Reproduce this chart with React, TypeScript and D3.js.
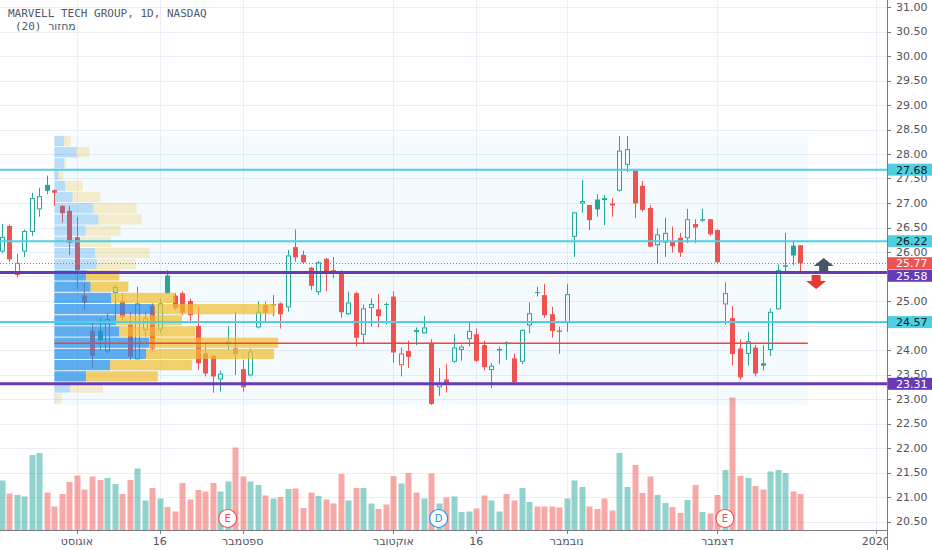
import * as d3 from 'd3'

// daily bars, index 0 = first visible session
const opens = [
  26.01, 26.53, 25.53, 26.01, 26.41, 26.87, 27.37, 27.26, 26.94, 26.84,
  26.30, 25.11, 24.39, 24.39, 23.97, 25.16, 25.00, 24.52, 23.81, 24.41,
  24.90, 24.41, 25.52, 25.11, 25.16, 25.00, 24.49, 23.93, 23.88, 23.40,
  24.14, 24.03, 23.61, 23.48, 24.46, 24.92, 24.93, 24.95, 24.87, 26.10,
  25.94, 25.68, 25.18, 25.86, 25.63, 25.56, 24.73, 25.16, 24.31, 24.86,
  24.83, 24.94, 25.09, 23.69, 23.98, 24.41, 24.34, 24.15, 23.24, 23.40,
  23.76, 24.00, 24.22, 24.32, 24.10, 23.59, 24.00, 24.15, 23.83, 23.76,
  24.50, 25.18, 25.12, 24.73, 24.40, 24.56, 26.31, 26.99, 26.96, 27.07,
  27.10, 26.99, 27.25, 27.78, 27.66, 27.35, 26.90, 26.14, 26.19, 26.22,
  26.29, 26.28, 26.57, 26.65, 26.67, 26.45, 24.93, 24.65, 24.03, 23.92,
  24.05, 23.73, 24.00, 24.83, 25.71, 26.13, 26.14,
]
const highs = [
  26.57, 26.56, 25.96, 26.46, 27.21, 27.31, 27.56, 27.28, 26.96, 26.94,
  26.71, 25.37, 24.56, 24.66, 24.75, 25.33, 25.16, 24.78, 25.29, 24.78,
  24.95, 25.05, 25.63, 25.16, 25.20, 25.05, 24.88, 24.14, 23.90, 23.58,
  24.48, 24.78, 23.80, 24.03, 24.99, 24.99, 25.12, 24.97, 26.04, 26.46,
  26.03, 25.70, 25.82, 25.88, 25.90, 25.63, 25.19, 25.19, 24.93, 25.05,
  25.14, 24.97, 25.20, 24.05, 24.19, 24.46, 24.69, 24.22, 23.63, 23.71,
  24.32, 24.10, 24.56, 24.44, 24.19, 23.73, 24.07, 24.18, 23.93, 24.42,
  24.97, 25.29, 25.35, 24.88, 24.48, 25.35, 26.82, 27.47, 26.96, 27.18,
  27.16, 27.10, 28.37, 28.37, 27.66, 27.45, 26.96, 26.48, 26.70, 26.52,
  26.39, 26.88, 26.67, 26.88, 26.67, 26.46, 25.38, 24.90, 24.22, 24.37,
  24.10, 24.10, 24.85, 25.75, 26.39, 26.24, 26.14,
]
const lows = [
  25.97, 25.80, 25.48, 25.90, 26.33, 26.72, 27.18, 26.94, 26.60, 25.94,
  25.24, 24.82, 23.63, 24.00, 23.92, 24.62, 24.58, 23.80, 23.80, 24.27,
  23.97, 24.35, 25.14, 24.82, 24.71, 24.54, 23.59, 23.46, 23.13, 23.15,
  24.00, 23.49, 23.15, 23.46, 24.44, 24.58, 24.69, 24.44, 24.78, 25.80,
  25.77, 25.22, 25.12, 25.20, 25.46, 24.66, 24.71, 24.07, 24.12, 24.48,
  24.46, 24.52, 23.74, 23.46, 23.63, 24.10, 24.33, 22.88, 23.06, 23.13,
  23.74, 23.78, 24.07, 23.76, 23.58, 23.22, 23.71, 23.80, 23.33, 23.71,
  24.34, 25.09, 24.66, 24.25, 23.92, 24.37, 25.90, 26.80, 26.45, 26.72,
  26.55, 26.72, 27.23, 27.63, 26.69, 26.82, 26.10, 25.76, 25.90, 25.99,
  25.90, 26.18, 26.18, 26.61, 26.33, 25.77, 24.52, 23.69, 23.39, 23.69,
  23.46, 23.58, 23.88, 24.82, 25.60, 25.73, 25.60,
]
const closes = [
  26.31, 25.85, 25.78, 26.43, 27.10, 27.14, 27.25, 27.21, 26.79, 26.19,
  25.63, 24.97, 23.88, 24.20, 24.63, 25.29, 24.67, 23.86, 24.95, 24.65,
  24.03, 24.95, 25.16, 24.85, 24.76, 24.71, 23.73, 23.52, 23.46, 23.52,
  24.17, 23.92, 23.24, 23.97, 24.78, 24.76, 24.94, 24.73, 25.93, 25.89,
  25.79, 25.31, 25.79, 25.60, 25.58, 24.77, 24.97, 24.25, 24.85, 24.94,
  24.69, 24.92, 23.95, 23.93, 23.86, 24.37, 24.46, 22.90, 23.32, 23.31,
  24.05, 24.07, 24.39, 23.78, 23.65, 23.68, 24.02, 24.12, 23.34, 24.41,
  24.75, 25.16, 24.71, 24.39, 24.37, 25.14, 26.81, 27.04, 26.65, 26.87,
  27.06, 26.95, 28.07, 28.10, 26.99, 26.86, 26.11, 26.36, 26.39, 26.12,
  25.99, 26.67, 26.50, 26.67, 26.36, 25.79, 25.16, 23.92, 23.44, 24.18,
  23.52, 23.68, 24.78, 25.63, 25.73, 25.93, 25.77,
]
// millions of shares
const volumes = [
  9.9, 7.3, 7.0, 6.7, 15.0, 15.4, 7.5, 4.7, 7.2, 9.6,
  10.9, 8.1, 10.7, 10.0, 10.4, 9.2, 7.2, 10.0, 12.3, 5.9,
  8.4, 6.3, 4.6, 3.7, 9.4, 6.1, 8.0, 7.7, 9.4, 7.7,
  9.7, 16.5, 10.7, 9.7, 9.0, 6.9, 6.3, 6.6, 8.2, 8.3,
  4.4, 7.5, 6.8, 6.1, 5.3, 11.2, 5.9, 8.4, 8.4, 5.3,
  4.2, 5.1, 10.8, 9.3, 11.4, 7.5, 6.3, 11.3, 5.3, 6.5,
  6.7, 3.6, 3.7, 4.3, 6.9, 5.9, 3.7, 7.2, 5.9, 8.4,
  5.6, 4.7, 4.7, 4.7, 4.5, 6.3, 9.9, 8.6, 4.7, 4.2,
  6.3, 3.9, 15.4, 8.6, 13.0, 7.4, 10.7, 7.0, 5.4, 4.6,
  3.4, 6.0, 9.0, 3.6, 3.3, 7.0, 12.0, 26.5, 10.8, 10.4,
  8.8, 8.1, 11.7, 12.0, 11.4, 7.7, 7.2,
]

const timeTicks = [10, 21, 32, 52, 63, 75, 95, 116]
const timeLabels = ['אוגוסט', '16', 'ספטמבר', 'אוקטובר', '16', 'נובמבר', 'דצמבר', '2020']
const priceTicks = d3.range(20.5, 31.001, 0.5)

// fixed range volume profile, rows listed from the top price down
const profileHigh = 28.37
const profileLow = 22.88
const profileFrom = 7
const profileTo = 107
const profileUp = [3.9, 8.9, 3.9, 1.6, 4.3, 7.3, 15.6, 17.6, 12.5, 9.9, 16.3, 16.9,
  12.7, 14.5, 22.7, 40.0, 24.7, 26.0, 37.9, 36.7, 22.3, 12.7, 6.3, 0.3]
const profileDown = [2.7, 5.1, 0.7, 2.0, 7.1, 11.2, 17.3, 17.3, 14.0, 12.7, 21.7, 15.7,
  13.3, 15.1, 25.6, 48.3, 26.3, 30.3, 51.6, 51.2, 32.7, 28.7, 13.1, 2.7]
const valueAreaRows = [12, 21]

const cyanLevels = [27.68, 26.22, 24.57]
const purpleLevels = [25.58, 23.31]
const lastPrice = closes[closes.length - 1]

const events = [
  { bar: 30, letter: 'E' },
  { bar: 58, letter: 'D' },
  { bar: 96, letter: 'E' },
]
const arrowMarks = [
  { bar: 109.1, price: 25.59, dir: 1 },
  { bar: 108.1, price: 25.53, dir: -1 },
]

const TEAL = '#26a69a'
const RED = '#ef5350'
const CYAN = '#4dd0e1'
const PURPLE = '#673ab7'
const TEXT = '#50535e'

const crisp = (v: number) => Math.round(v) + 0.5

export default function App() {
  const W = 932
  const H = 550
  const axisX = 887
  const paneBottom = 530

  const x = d3.scaleLinear().domain([0, 106]).range([1.6, 800.3])
  const y = d3.scaleLinear().domain([25, 31]).range([301, 7])
  const vy = d3.scaleLinear().domain([0, d3.max(volumes)!]).range([paneBottom, paneBottom - 132.5])

  const totals = profileUp.map((u, i) => u + profileDown[i])
  const px0 = x(profileFrom)
  const px1 = x(profileTo)
  const pw = d3.scaleLinear().domain([0, d3.max(totals)!]).range([0, 0.297 * (px1 - px0)])
  const rowStep = (y(profileLow) - y(profileHigh)) / profileUp.length
  const pocRow = d3.maxIndex(totals)
  const pocPrice = profileHigh - (pocRow + 0.5) * (profileHigh - profileLow) / profileUp.length

  // axis labels, pushed apart when they collide
  const labels = [
    ...cyanLevels.map(p => ({ p, bg: CYAN, fg: '#131722' })),
    { p: lastPrice, bg: RED, fg: '#ffffff' },
    ...purpleLevels.map(p => ({ p, bg: PURPLE, fg: '#ffffff' })),
  ].map(d => ({ ...d, cy: y(d.p) })).sort((a, b) => a.cy - b.cy)
  for (let i = 1; i < labels.length; i++) {
    const min = labels[i - 1].cy + 12.5
    if (labels[i].cy < min) labels[i].cy = min
  }
  // tick labels that sit fully under a coloured label are not drawn
  const shownTicks = priceTicks.filter(p => labels.every(l => Math.abs(l.cy - y(p)) > 7))

  return (
    <svg width={W} height={H} style={{ position: 'absolute', left: 0, top: 0, background: '#fff' }}
      fontFamily="'DejaVu Sans', sans-serif">
      <rect width={W} height={H} fill="#fff" />

      {/* grid */}
      {priceTicks.map(p => (
        <line key={'h' + p} x1={0} x2={axisX} y1={crisp(y(p))} y2={crisp(y(p))} stroke="#e9eff5" />
      ))}
      {timeTicks.map(i => (
        <line key={'v' + i} x1={crisp(x(i))} x2={crisp(x(i))} y1={0} y2={paneBottom} stroke="#e9eff5" />
      ))}

      {/* profile range background */}
      <rect x={px0} y={y(profileHigh)} width={px1 - px0} height={y(profileLow) - y(profileHigh)}
        fill="rgba(33,150,243,0.05)" />

      {/* volume */}
      {volumes.map((v, i) => (
        <rect key={'vol' + i} x={Math.round(x(i)) - 2.5} width={6} y={vy(v)} height={paneBottom - vy(v)}
          fill={closes[i] >= opens[i] ? 'rgba(38,166,154,0.5)' : 'rgba(239,83,80,0.5)'} />
      ))}

      {/* candles */}
      {closes.map((c, i) => {
        const o = opens[i]
        const prev = i ? closes[i - 1] : o
        const col = c >= prev ? TEAL : RED
        const hollow = c > o
        const cx = Math.round(x(i))
        const top = y(Math.max(o, c))
        const bot = Math.max(top + 1, y(Math.min(o, c)))
        const hy = y(highs[i])
        const ly = y(lows[i])
        if (hollow) {
          return (
            <g key={'c' + i} stroke={col}>
              <line x1={cx + 0.5} x2={cx + 0.5} y1={hy} y2={top} />
              <line x1={cx + 0.5} x2={cx + 0.5} y1={bot} y2={ly} />
              <rect x={cx - 1.5} y={top + 0.5} width={4} height={Math.max(0.5, bot - top - 1)} fill="none" />
            </g>
          )
        }
        return (
          <g key={'c' + i}>
            <line x1={cx + 0.5} x2={cx + 0.5} y1={hy} y2={ly} stroke={col} />
            <rect x={cx - 2} y={top} width={5} height={bot - top} fill={col} />
          </g>
        )
      })}

      {/* volume profile rows */}
      {profileUp.map((u, r) => {
        const inVA = r >= valueAreaRows[0] && r <= valueAreaRows[1]
        const ry = y(profileHigh) + r * rowStep
        const uw = pw(u)
        const dw = pw(profileDown[r])
        return (
          <g key={'p' + r}>
            <rect x={px0} y={ry} width={uw} height={rowStep - 1}
              fill={inVA ? 'rgba(33,142,233,0.72)' : 'rgba(33,142,233,0.28)'} />
            <rect x={px0 + uw} y={ry} width={dw} height={rowStep - 1}
              fill={inVA ? 'rgba(240,190,50,0.72)' : 'rgba(240,190,50,0.25)'} />
          </g>
        )
      })}
      <line x1={px0} x2={px1} y1={y(pocPrice)} y2={y(pocPrice)} stroke="#f44336" strokeWidth={1.5} />

      {/* horizontal levels */}
      {cyanLevels.map(p => (
        <line key={'cy' + p} x1={0} x2={axisX} y1={y(p)} y2={y(p)} stroke={CYAN} strokeWidth={2} />
      ))}
      <line x1={0} x2={axisX} y1={crisp(y(lastPrice))} y2={crisp(y(lastPrice))} stroke={RED}
        strokeDasharray="1 2" />
      {purpleLevels.map(p => (
        <line key={'pu' + p} x1={0} x2={axisX} y1={y(p)} y2={y(p)} stroke={PURPLE} strokeWidth={3} />
      ))}

      {/* arrow marks */}
      {arrowMarks.map((a, k) => {
        const cx = x(a.bar)
        const by = y(a.price)
        const s = -a.dir
        const d = `M${cx - 4.5},${by} L${cx - 4.5},${by + s * 6} L${cx - 10},${by + s * 6} L${cx},${by + s * 14}` +
          ` L${cx + 10},${by + s * 6} L${cx + 4.5},${by + s * 6} L${cx + 4.5},${by} Z`
        return <path key={'a' + k} d={d} fill={a.dir > 0 ? '#4a5468' : '#e53935'} />
      })}

      {/* events */}
      {events.map((e, k) => {
        const col = e.letter === 'D' ? '#2196f3' : RED
        return (
          <g key={'e' + k}>
            <circle cx={x(e.bar)} cy={518.5} r={9} fill="#fff" stroke={col} strokeWidth={1.2} />
            <text x={x(e.bar)} y={518.5} dy="0.35em" textAnchor="middle" fontSize={10} fill={col}>
              {e.letter}
            </text>
          </g>
        )
      })}

      {/* time axis */}
      <line x1={0} x2={axisX} y1={paneBottom + 0.5} y2={paneBottom + 0.5} stroke="#787b86" />
      {timeTicks.map((i, k) => (
        <g key={'t' + i}>
          <line x1={crisp(x(i))} x2={crisp(x(i))} y1={paneBottom} y2={paneBottom + 4} stroke="#787b86" />
          <text x={x(i)} y={541} dy="0.35em" textAnchor="middle" fontSize={11} fill={TEXT}>
            {timeLabels[k]}
          </text>
        </g>
      ))}

      {/* price axis */}
      <rect x={axisX} y={0} width={W - axisX} height={H} fill="#fff" />
      <line x1={axisX + 0.5} x2={axisX + 0.5} y1={0} y2={H} stroke="#787b86" />
      {priceTicks.map(p => (
        <line key={'pm' + p} x1={axisX} x2={axisX + 4} y1={crisp(y(p))} y2={crisp(y(p))} stroke="#787b86" />
      ))}
      {shownTicks.map(p => (
        <text key={'pt' + p} x={axisX + 9} y={y(p)} dy="0.35em" fontSize={11} fill={TEXT}>{p.toFixed(2)}</text>
      ))}
      {labels.map(l => (
        <g key={'l' + l.p}>
          <rect x={axisX + 1} y={l.cy - 6} width={W - axisX - 1} height={12} fill={l.bg} />
          <text x={axisX + 9} y={l.cy} dy="0.35em" fontSize={11} fill={l.fg}>{l.p.toFixed(2)}</text>
        </g>
      ))}

      {/* legend */}
      <g fontFamily="'DejaVu Sans Mono', 'DejaVu Sans', monospace" fontSize={11} fill="#4f5966">
        <text x={8} y={17}>MARVELL TECH GROUP, 1D, NASDAQ</text>
        <text x={15} y={29.5}>(20) מחזור</text>
      </g>
    </svg>
  )
}
